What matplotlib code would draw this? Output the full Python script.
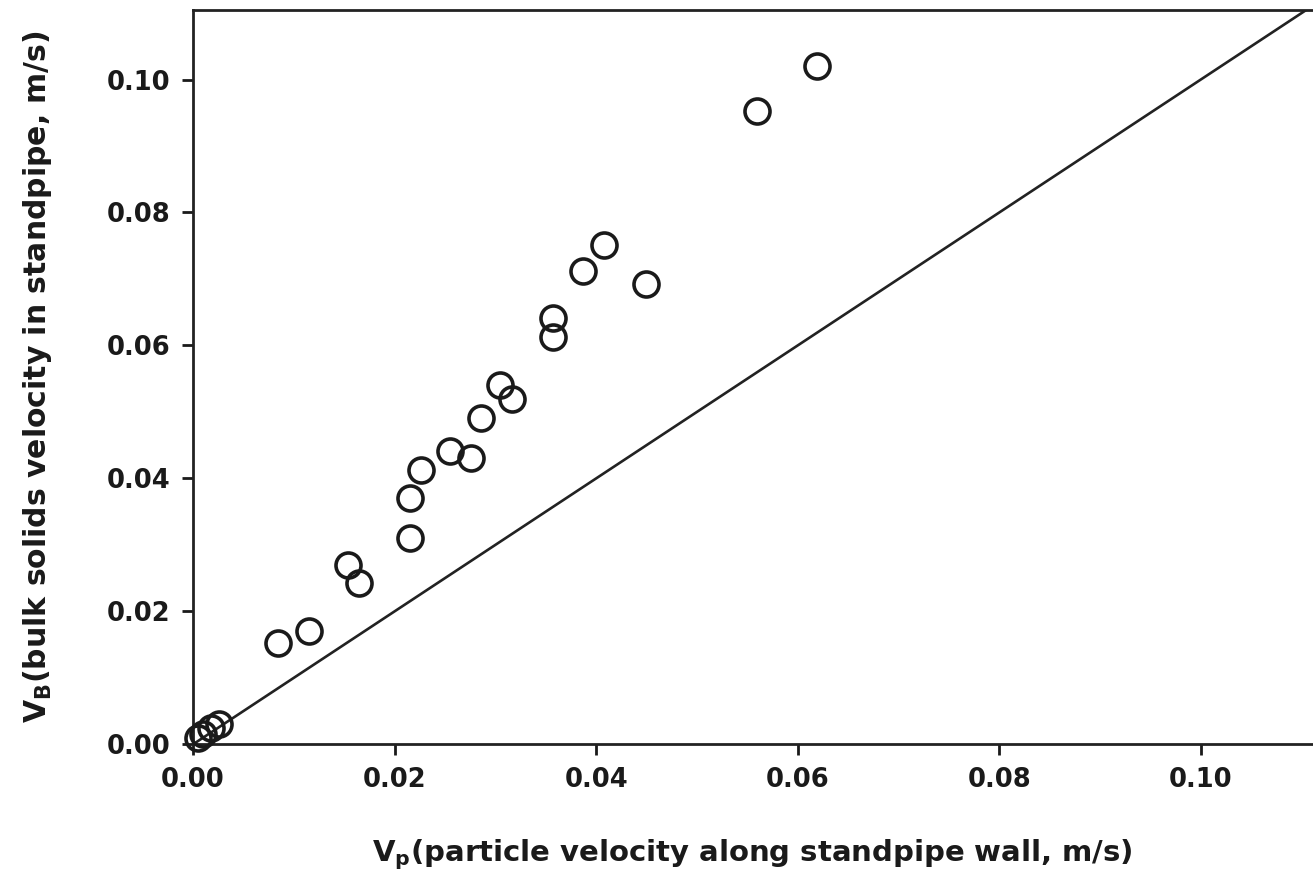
import matplotlib
matplotlib.use('Agg')
import matplotlib.pyplot as plt
import numpy as np

# particle velocity along wall (x) and bulk solids velocity (y), m/s
vp = [0.0005, 0.0010, 0.0018, 0.0026, 0.0084, 0.0115, 0.0154, 0.0165,
      0.0215, 0.0215, 0.0226, 0.0255, 0.0276, 0.0286, 0.0305, 0.0317,
      0.0357, 0.0357, 0.0387, 0.0408, 0.0449, 0.0560, 0.0619]
vb = [0.0010, 0.0015, 0.0024, 0.0030, 0.0152, 0.0171, 0.0270, 0.0242,
      0.0371, 0.0311, 0.0413, 0.0441, 0.0431, 0.0491, 0.0541, 0.0520,
      0.0641, 0.0613, 0.0712, 0.0751, 0.0692, 0.0952, 0.1021]

ticks = [0.00, 0.02, 0.04, 0.06, 0.08, 0.10]
tick_labels = ['0.00', '0.02', '0.04', '0.06', '0.08', '0.10']
line_end = 0.1112

plt.rcParams['mathtext.fontset'] = 'dejavusans'

fig = plt.figure(figsize=(13.13, 8.84), dpi=100)
ax = fig.add_axes([0.147, 0.158, 0.852, 0.831])

ax.plot([0, line_end], [0, line_end], color='#222222', lw=1.9, zorder=2)
ax.plot(vp, vb, 'o', ms=18, mfc='none', mec='#1a1a1a', mew=2.6, zorder=3,
        clip_on=False)

ax.set_xlim(0, 0.111)
ax.set_ylim(0, 0.1105)
ax.set_xticks(ticks)
ax.set_xticklabels(tick_labels)
ax.set_yticks(ticks)
ax.set_yticklabels(tick_labels)
ax.tick_params(direction='out', length=8, width=2, labelsize=18.5, pad=8,
               colors='#1a1a1a')
for lab in ax.get_xticklabels() + ax.get_yticklabels():
    lab.set_fontweight('bold')
for s in ax.spines.values():
    s.set_linewidth(2)
    s.set_color('#222222')
ax.spines['right'].set_visible(False)

ax.set_xlabel(r'$\mathbf{V_p}$(particle velocity along standpipe wall, m/s)',
              fontsize=21, fontweight='bold', color='#1a1a1a', labelpad=32)
ax.set_ylabel(r'$\mathbf{V_B}$(bulk solids velocity in standpipe, m/s)',
              fontsize=21.5, fontweight='bold', color='#1a1a1a', labelpad=38)

fig.savefig('out.png', dpi=100)
